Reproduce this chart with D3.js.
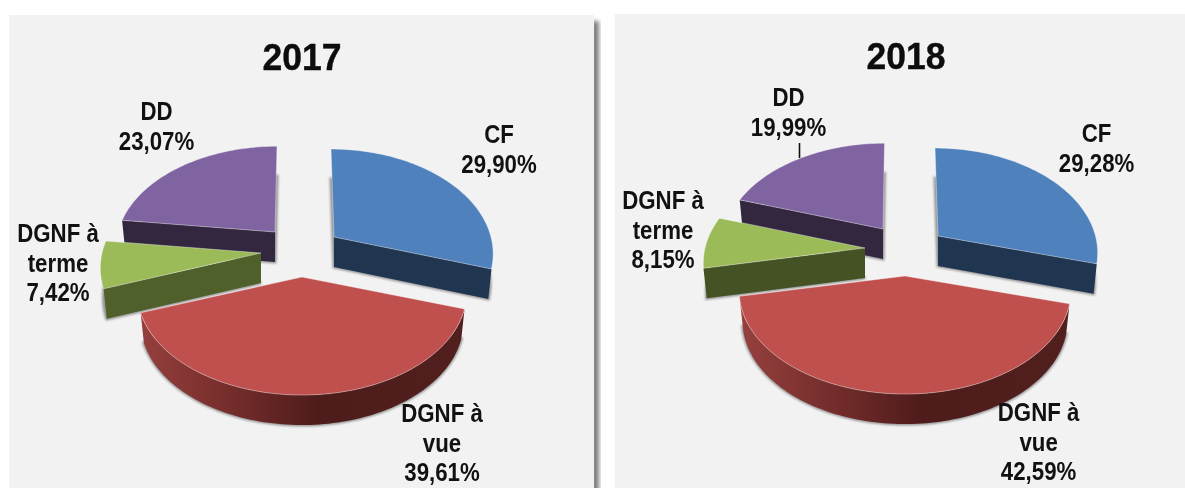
<!DOCTYPE html>
<html><head><meta charset="utf-8">
<script src="https://cdn.jsdelivr.net/npm/d3@7/dist/d3.min.js"></script>
<style>html,body{margin:0;padding:0;background:#fff;overflow:hidden}svg{display:block;filter:blur(0.35px)}</style>
</head><body><svg id="c" width="1185" height="488"></svg>
<script>
const categories = ["CF", "DGNF à vue", "DGNF à terme", "DD"];
const values2017 = [29.90, 39.61, 7.42, 23.07];
const values2018 = [29.28, 42.59, 8.15, 19.99];
const years = ["2017", "2018"];
const colors = ["#4f81bd", "#c0504d", "#9bbb59", "#8064a2"];
const wallColors = [["#1f3550", "url(#redWall0)", "#50602a", "#33273f"],
                    ["#1f3550", "url(#redWall1)", "#445224", "#33273f"]];
const labelLines = [["CF"], ["DGNF à", "vue"], ["DGNF à", "terme"], ["DD"]];

// layout (pixels), kept apart from the data
const panels = [
  {x: 9, w: 585, y: 15, titleX: 302, titleY: 70,
   slices: [{ax:334,ay:237,r:157,lean:-3,ky:1},{ax:302,ay:277,r:163,lean:0,ky:1},{ax:261,ay:253,r:159,lean:0,ky:1},{ax:275,ay:232,r:157,lean:2,ky:.975}],
   labels: [{x:499,y:143},{x:442,y:422},{x:58,y:242},{x:156.5,y:120}]},
  {x: 615, w: 570, y: 14, titleX: 906, titleY: 69,
   slices: [{ax:938,ay:236,r:157.5,lean:-3,ky:1},{ax:905,ay:276,r:164,lean:0,ky:1},{ax:865,ay:248,r:160,lean:0,ky:1},{ax:883,ay:229,r:158,lean:1.5,ky:.975}],
   labels: [{x:1096.6,y:142},{x:1038.6,y:421},{x:663,y:209},{x:788.5,y:106}],
   leader: {x:799.5,y1:143,y2:158}}
];
const persp = {a: 100.8, b: 0.146, depth: 30, shrink: .98};
const drawOrder = [3, 0, 2, 1];

const svg = d3.select("#c");
const defs = svg.append("defs");
const blur = (id, s) => defs.append("filter").attr("id", id)
  .attr("x","-20%").attr("y","-20%").attr("width","140%").attr("height","140%")
  .append("feGaussianBlur").attr("stdDeviation", s);
blur("soft", 1.2); blur("panelShadow", 2);

const pie = d3.pie().sort(null).value(d => d);
const line = d3.line();
const fmt = v => v.toFixed(2).replace(".", ",") + "%";

svg.append("rect").attr("width",1185).attr("height",488).attr("fill","#fff");

[values2017, values2018].forEach((vals, pi) => {
  const P = panels[pi];
  const grad = defs.append("linearGradient").attr("id","redWall"+pi)
    .attr("gradientUnits","userSpaceOnUse")
    .attr("x1",P.slices[1].ax-165).attr("x2",P.slices[1].ax+165).attr("y1",0).attr("y2",0);
  [[0,"#96403e"],[.3,"#722c2a"],[.55,"#4e1c1b"],[1,"#511f1d"]].forEach(s =>
    grad.append("stop").attr("offset",s[0]).attr("stop-color",s[1]));

  if (pi === 0) svg.append("rect").attr("x",P.x+P.w-3).attr("y",P.y+6).attr("width",8).attr("height",488)
    .attr("fill","#7f7f7f").attr("filter","url(#panelShadow)");
  svg.append("rect").attr("x",P.x).attr("y",P.y).attr("width",P.w).attr("height",488-P.y).attr("fill","#f2f2f2");

  svg.append("text").attr("transform",`translate(${P.titleX},${P.titleY}) scale(.96,1)`).attr("text-anchor","middle")
    .attr("font-family","'Liberation Sans',Arial,sans-serif").attr("font-weight",700)
    .attr("font-size",37).attr("fill","#0d0d0d").attr("stroke","#0d0d0d").attr("stroke-width",.4).text(years[pi]);

  const arcs = pie(vals);
  drawOrder.forEach(i => {
    const L = P.slices[i], A = arcs[i];
    const pt = (t, off=0) => {
      const c = Math.cos(t), s = Math.sin(t), w = 1 + persp.b * c;
      const k = off ? persp.shrink : 1;
      return [L.ax + k * L.r * s / w + L.lean * c, L.ay - L.ky * persp.a * c / w + off];
    };
    const n = Math.max(8, Math.ceil((A.endAngle - A.startAngle) * 40));
    const ts = d3.range(n + 1).map(k => A.startAngle + (A.endAngle - A.startAngle) * k / n);
    const face = off => [[L.ax, L.ay + off], ...ts.map(t => pt(t, off))];
    const g = svg.append("g").attr("class","slice");

    // soft shadow around the extruded footprint only
    g.append("path").attr("d", line(face(persp.depth)) + "Z")
      .attr("fill","#808080").attr("stroke","#808080").attr("stroke-width",3)
      .attr("filter","url(#soft)").attr("opacity",.8);

    // side walls
    if (i === 1) {
      const outer = [...ts.map(t => pt(t)), ...ts.slice().reverse().map(t => pt(t, persp.depth))];
      g.append("path").attr("d", line(outer) + "Z").attr("fill", wallColors[pi][1]);
    } else {
      const t = i === 0 ? A.endAngle : A.startAngle;
      g.append("path").attr("d", line([[L.ax,L.ay],pt(t),pt(t, persp.depth),[L.ax,L.ay+persp.depth]]) + "Z")
        .attr("fill", wallColors[pi][i]);
    }
    // top face
    g.append("path").attr("d", line(face(0)) + "Z").attr("fill", colors[i])
      .attr("stroke","rgba(255,255,255,.55)").attr("stroke-width",.7);
  });

  if (P.leader) svg.append("line").attr("x1",P.leader.x).attr("x2",P.leader.x)
    .attr("y1",P.leader.y1).attr("y2",P.leader.y2).attr("stroke","#111").attr("stroke-width",1.6);

  // labels
  vals.forEach((v, i) => {
    const lines = [...labelLines[i], fmt(v)], pos = P.labels[i];
    lines.forEach((s, k) => {
      svg.append("text").attr("transform",`translate(${pos.x},${pos.y + k * 29.7}) scale(.84,1)`)
        .attr("text-anchor","middle").attr("font-family","'Liberation Sans',Arial,sans-serif")
        .attr("font-weight",700).attr("font-size",26.5).attr("fill","#111").text(s);
    });
  });
});
</script></body></html>
